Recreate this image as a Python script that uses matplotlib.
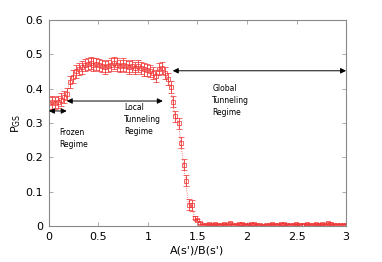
import matplotlib
matplotlib.use("Agg")
import matplotlib.pyplot as plt
import numpy as np

# A(s')/B(s') ratio and ground-state probability
ratio = [0.00, 0.03, 0.06, 0.09, 0.12, 0.15, 0.18, 0.21, 0.24, 0.27,
         0.30, 0.33, 0.36, 0.39, 0.42, 0.45, 0.48, 0.51, 0.54, 0.57,
         0.60, 0.63, 0.66, 0.69, 0.72, 0.75, 0.78, 0.81, 0.84, 0.87,
         0.90, 0.93, 0.96, 0.99, 1.02, 1.05, 1.08, 1.11, 1.14, 1.17,
         1.20, 1.23, 1.25, 1.27, 1.31, 1.33, 1.36, 1.38, 1.41, 1.44,
         1.47, 1.50, 1.53, 1.56, 1.59, 1.62, 1.65, 1.68, 1.71, 1.74,
         1.77, 1.80, 1.83, 1.86, 1.89, 1.92, 1.95, 1.98, 2.01, 2.04,
         2.07, 2.10, 2.13, 2.16, 2.19, 2.22, 2.25, 2.28, 2.31, 2.34,
         2.37, 2.40, 2.43, 2.46, 2.49, 2.52, 2.55, 2.58, 2.61, 2.64,
         2.67, 2.70, 2.73, 2.76, 2.79, 2.82, 2.85, 2.88, 2.91, 2.94,
         2.97, 3.00]
pgs = [0.358, 0.360, 0.358, 0.362, 0.368, 0.375, 0.385, 0.420, 0.435, 0.450,
       0.458, 0.462, 0.468, 0.472, 0.474, 0.470, 0.472, 0.468, 0.466, 0.462,
       0.465, 0.470, 0.474, 0.470, 0.466, 0.470, 0.466, 0.462, 0.466, 0.460,
       0.465, 0.460, 0.456, 0.455, 0.452, 0.446, 0.436, 0.458, 0.460, 0.445,
       0.428, 0.405, 0.362, 0.320, 0.300, 0.242, 0.178, 0.132, 0.062, 0.060,
       0.025, 0.018, 0.010, 0.004, 0.003, 0.005, 0.004, 0.006, 0.004, 0.003,
       0.006, 0.004, 0.010, 0.004, 0.003, 0.006, 0.005, 0.004, 0.002, 0.005,
       0.006, 0.004, 0.003, 0.001, 0.004, 0.002, 0.005, 0.003, 0.004, 0.006,
       0.007, 0.003, 0.002, 0.004, 0.005, 0.003, 0.004, 0.002, 0.005, 0.004,
       0.003, 0.005, 0.004, 0.006, 0.004, 0.008, 0.005, 0.004, 0.003, 0.002,
       0.004, 0.003]
err = [0.018 if r < 1.25 else (0.016 if r < 1.45 else 0.003) for r in ratio]

red = "#f03030"

fig = plt.figure(figsize=(3.82, 2.62), dpi=100)
ax = fig.add_axes([0.128, 0.137, 0.778, 0.787])

ax.errorbar(ratio, pgs, yerr=err, fmt="s", ms=3.5, mfc="none", mec=red,
            mew=0.6, ecolor=red, elinewidth=0.7, capsize=2, capthick=0.7,
            alpha=0.85, ls=":", lw=0.6, color=red)

arw = dict(arrowstyle="<|-|>", color="black", lw=0.7,
           mutation_scale=8, shrinkA=0, shrinkB=0)
ax.annotate("", xy=(0.0, 0.335), xytext=(0.18, 0.335), arrowprops=arw)
ax.annotate("", xy=(0.18, 0.364), xytext=(1.15, 0.364), arrowprops=arw)
ax.annotate("", xy=(1.25, 0.452), xytext=(3.0, 0.452), arrowprops=arw)

ax.text(0.1, 0.255, "Frozen\nRegime", fontsize=5.5, va="center", linespacing=1.4)
ax.text(0.76, 0.31, "Local\nTunneling\nRegime", fontsize=5.5, va="center", linespacing=1.4)
ax.text(1.65, 0.365, "Global\nTunneling\nRegime", fontsize=5.5, va="center", linespacing=1.4)

ax.set_xlim(0, 3)
ax.set_ylim(0, 0.6)
ax.set_xticks([0, 0.5, 1, 1.5, 2, 2.5, 3])
ax.set_xticklabels(["0", "0.5", "1", "1.5", "2", "2.5", "3"])
ax.set_yticks([0, 0.1, 0.2, 0.3, 0.4, 0.5, 0.6])
ax.set_yticklabels(["0", "0.1", "0.2", "0.3", "0.4", "0.5", "0.6"])
ax.tick_params(direction="in", top=True, right=True, labelsize=8,
               length=3, width=0.5, color="#888888", pad=4)
for s in ax.spines.values():
    s.set_color("#888888")
    s.set_linewidth(0.8)

ax.set_xlabel("A(s')/B(s')", fontsize=8, labelpad=3)
ax.set_ylabel(r"P$_{\mathrm{GS}}$", fontsize=8, labelpad=2)

fig.savefig("out.png", dpi=100)
